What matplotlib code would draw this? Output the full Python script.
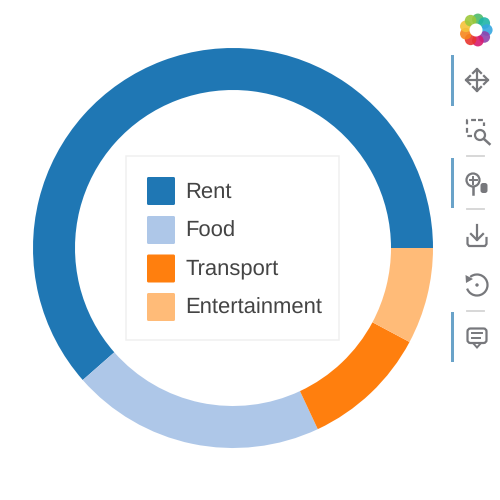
import numpy as np
import matplotlib
matplotlib.use("Agg")
import matplotlib.pyplot as plt
from matplotlib.patches import Circle, Arc, Polygon, Rectangle, FancyBboxPatch

labels = ["Rent", "Food", "Transport", "Entertainment"]
amounts = [3000, 1000, 500, 380]
colors = ["#1f77b4", "#aec7e8", "#ff7f0e", "#ffbb78"]

logo_colors = ["#4dbb6a", "#1fb5a8", "#35a7e0", "#8e44ad", "#d81b70",
               "#e8352e", "#f7861e", "#f5c23a", "#9cc83c"]

plt.rcParams["font.family"] = ["Liberation Sans", "DejaVu Sans"]
plt.rcParams["text.hinting"] = "no_hinting"

fig = plt.figure(figsize=(5, 5), dpi=100, facecolor="white")

# donut, axes units are pixels
ax_pie = fig.add_axes([0, 0, 1, 1])
ax_pie.pie(amounts, colors=colors, startangle=0, radius=200, center=(233, 252),
           frame=True, wedgeprops=dict(width=42, linewidth=0))
ax_pie.set_xlim(0, 500)
ax_pie.set_ylim(0, 500)
ax_pie.axis("off")

# legend and toolbar go on an overlay with y going down
ax = fig.add_axes([0, 0, 1, 1], facecolor="none")
ax.set_xlim(0, 500)
ax.set_ylim(500, 0)
ax.axis("off")

ax.add_patch(Rectangle((126, 156), 213, 184, fc="white", ec="#f0f0f0", lw=1.1))
swatch_tops = [177, 216, 254.5, 293]
baselines = [198, 236.5, 274.5, 314]
for top, base, name, col in zip(swatch_tops, baselines, labels, colors):
    ax.add_patch(FancyBboxPatch((148, top + 1), 26, 26, boxstyle="round,pad=1,rounding_size=1.5",
                                fc=col, ec="none"))
    ax.text(185.5, base, name, fontsize=15.8, color="#444444", va="baseline", ha="left")

# toolbar
icon = "#77787c"
for y0, y1 in [(55, 106), (158, 208), (312, 362)]:
    ax.add_patch(Rectangle((451, y0), 3, y1 - y0, fc="#6aa3c9", ec="none"))
for y in [156, 209, 311]:
    ax.plot([467, 484], [y, y], color="#d4d4d4", lw=1.3)

# logo
for i, col in enumerate(logo_colors):
    a = np.deg2rad(-80 + i * 40)
    ax.add_patch(Circle((476 + 10.8 * np.cos(a), 30 + 10.8 * np.sin(a)), 5.8, fc=col, ec="none", alpha=0.9))
ax.add_patch(Circle((476, 30), 6.5, fc="white", ec="none"))

# pan
ax.plot([466, 488], [80, 80], color=icon, lw=1.6)
ax.plot([477, 477], [69, 91], color=icon, lw=1.6)
for pts in [[(470, 76), (466, 80), (470, 84)], [(484, 76), (488, 80), (484, 84)],
            [(473, 73), (477, 69), (481, 73)], [(473, 87), (477, 91), (481, 87)]]:
    ax.plot(*zip(*pts), color=icon, lw=1.6)

# box zoom
ax.plot([476, 466.5, 466.5, 472], [120, 120, 136, 136], color=icon, lw=1.6, ls=(0, (2.2, 1.6)))
ax.plot([478, 484, 484], [120, 120, 126], color=icon, lw=1.6, ls=(0, (2.2, 1.6)))
ax.add_patch(Circle((480, 135), 5, fc="none", ec=icon, lw=1.6))
ax.plot([484, 489.5], [139, 144], color=icon, lw=1.8)

# wheel zoom
ax.add_patch(Circle((473, 180), 6.5, fc="none", ec=icon, lw=1.6))
ax.plot([469.5, 476.5], [180, 180], color=icon, lw=1.4)
ax.plot([473, 473], [176.5, 183.5], color=icon, lw=1.4)
ax.plot([473, 473], [187, 194], color=icon, lw=1.8)
ax.add_patch(FancyBboxPatch((481.5, 184), 5, 8, boxstyle="round,pad=1,rounding_size=2.5", fc=icon, ec="none"))

# save
ax.plot([477, 477], [225, 240], color=icon, lw=1.6)
ax.plot([471, 477, 483], [234, 240, 234], color=icon, lw=1.6)
ax.plot([467.5, 467.5, 469, 485, 486.5, 486.5], [238, 244, 246, 246, 244, 238], color=icon, lw=1.6)

# reset
ax.add_patch(Arc((477, 285), 21, 21, theta1=-130, theta2=160, ec=icon, lw=1.6))
ax.add_patch(Circle((477, 285), 1.7, fc=icon, ec="none"))
ax.add_patch(Polygon([(465.5, 275), (473, 279), (466, 283)], fc=icon, ec="none"))

# comment
ax.add_patch(FancyBboxPatch((468.5, 329.5), 17, 12.5, boxstyle="round,pad=1,rounding_size=3",
                            fc="none", ec=icon, lw=1.6))
ax.add_patch(Polygon([(473, 343), (477, 347.5), (481, 343)], fc="white", ec=icon, lw=1.4))
ax.plot([472, 482], [333, 333], color=icon, lw=1.4)
ax.plot([472, 480], [338, 338], color=icon, lw=1.4)

fig.savefig("out.png", dpi=100)
